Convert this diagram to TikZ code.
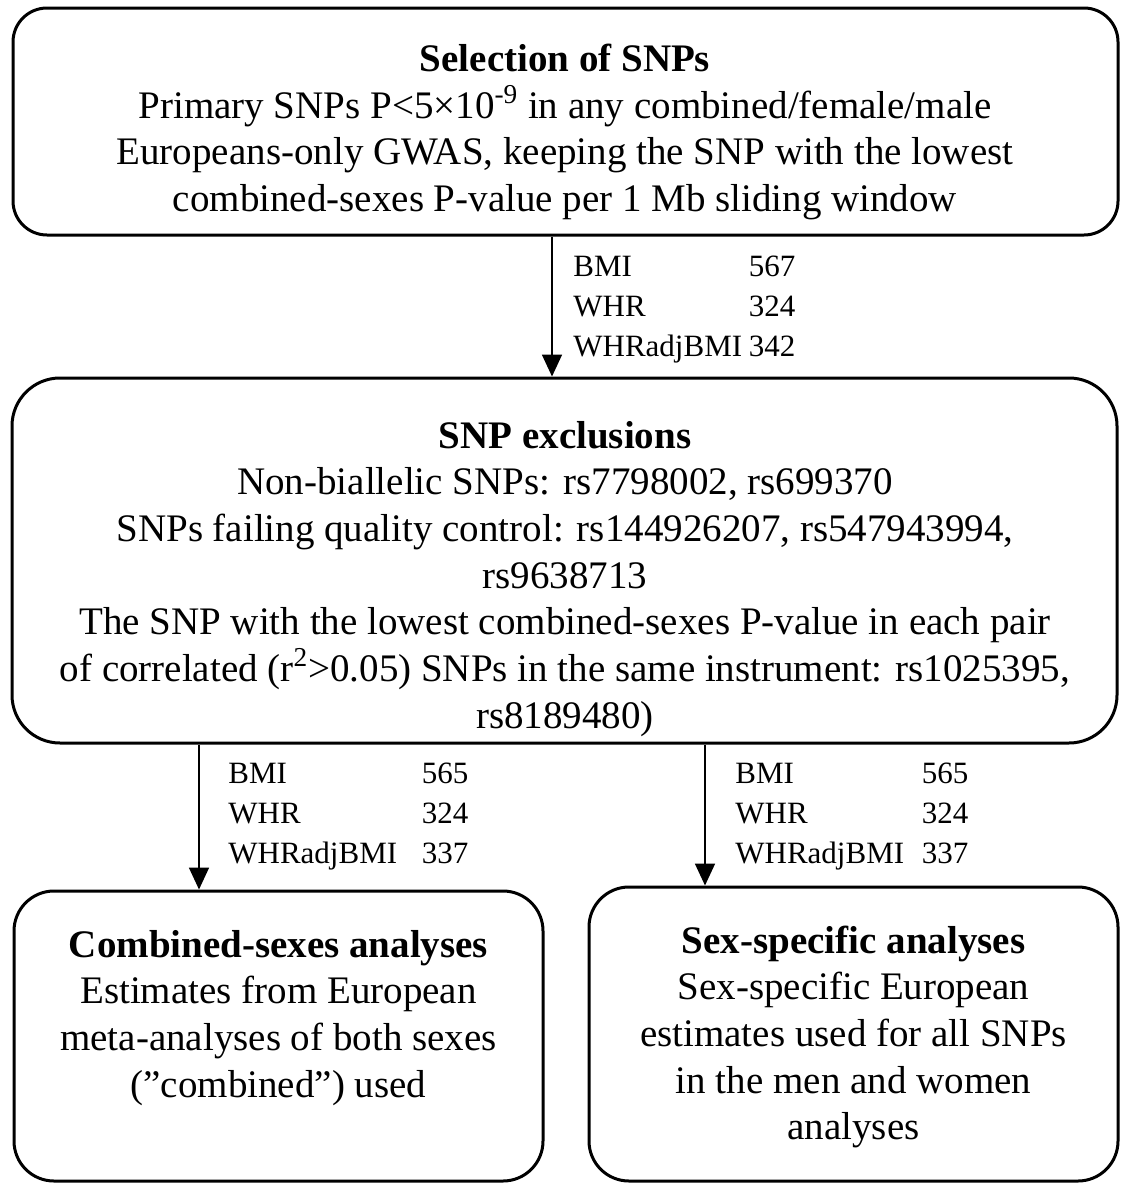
\documentclass[tikz,border=0pt]{standalone}
\usepackage{fontspec}
\setmainfont{Liberation Serif}
\usetikzlibrary{positioning,arrows.meta}

\tikzset{
  flowbox/.style={draw, line width=1.5pt, inner sep=0pt},
  boxtext/.style={inner sep=0pt, anchor=base, font=\fontsize{19.5}{23.35}\selectfont},
  counttab/.style={inner sep=0pt, anchor=base west, font=\fontsize{15.5}{20}\selectfont},
  flowarrow/.style={line width=0.9pt, -{Triangle[length=11pt, width=10pt]}},
}

% SNP counts per trait (table width, BMI, WHR, WHRadjBMI)
\newcommand{\snpcounts}[4]{%
  \begin{tabular*}{#1}[t]{@{}l@{\extracolsep{\fill}}r@{}}
    BMI & #2\\ WHR & #3\\ WHRadjBMI & #4
  \end{tabular*}}

\begin{document}
\begin{tikzpicture}[x=0.5pt, y=-0.5pt]
    % =========================================
    % 1. Canvas (1123 x 1183)
    % =========================================
    \useasboundingbox (0,0) rectangle (1123,1183);

    % =========================================
    % 2. Boxes
    % =========================================
    \node[flowbox, rounded corners=17pt, minimum width=552.5pt, minimum height=113.5pt] (select) at (565.5,121.5) {};
    \node[flowbox, rounded corners=24pt, minimum width=552.5pt, minimum height=182.5pt] (excl) at (564.5,560.5) {};
    \node[flowbox, rounded corners=20pt, minimum width=264.5pt, minimum height=145pt] (comb) at (278.5,1036) {};
    \node[flowbox, rounded corners=20pt, minimum width=264.5pt, minimum height=147pt] (sexspec) at (853.5,1034) {};

    % =========================================
    % 3. Box texts (anchored at first baseline)
    % =========================================
    \node[boxtext] (selectText) at (565,71) {\begin{tabular}[t]{@{}c@{}}
        \textbf{Selection of SNPs}\\
        Primary SNPs P<5×10\textsuperscript{-9} in any combined/female/male\\
        Europeans-only GWAS, keeping the SNP with the lowest\\
        combined-sexes P-value per 1 Mb sliding window
      \end{tabular}};

    \node[boxtext] (exclText) at (565,448) {\begin{tabular}[t]{@{}c@{}}
        \textbf{SNP exclusions}\\
        Non-biallelic SNPs: rs7798002, rs699370\\
        SNPs failing quality control: rs144926207, rs547943994,\\
        rs9638713\\
        The SNP with the lowest combined-sexes P-value in each pair\\
        of correlated (r\textsuperscript{2}>0.05) SNPs in the same instrument: rs1025395,\\
        rs8189480)
      \end{tabular}};

    \node[boxtext] (combText) at (278.5,957) {\begin{tabular}[t]{@{}c@{}}
        \textbf{Combined-sexes analyses}\\
        Estimates from European\\
        meta-analyses of both sexes\\
        (”combined”) used
      \end{tabular}};

    \node[boxtext] (sexText) at (853.5,953) {\begin{tabular}[t]{@{}c@{}}
        \textbf{Sex-specific analyses}\\
        Sex-specific European\\
        estimates used for all SNPs\\
        in the men and women\\
        analyses
      \end{tabular}};

    % =========================================
    % 4. Arrows and SNP counts
    % =========================================
    \coordinate (colA) at (552,0);
    \coordinate (colB) at (199,0);
    \coordinate (colC) at (705,0);

    \draw[flowarrow] (select.south -| colA) -- (excl.north -| colA);
    \draw[flowarrow] (excl.south -| colB) -- (comb.north -| colB);
    \draw[flowarrow] (excl.south -| colC) -- (sexspec.north -| colC);

    \node[counttab] (countsA) at (573,276) {\snpcounts{111pt}{567}{324}{342}};
    \node[counttab] (countsB) at (228,783) {\snpcounts{120pt}{565}{324}{337}};
    \node[counttab] (countsC) at (735,783) {\snpcounts{116.5pt}{565}{324}{337}};

\end{tikzpicture}
\end{document}
